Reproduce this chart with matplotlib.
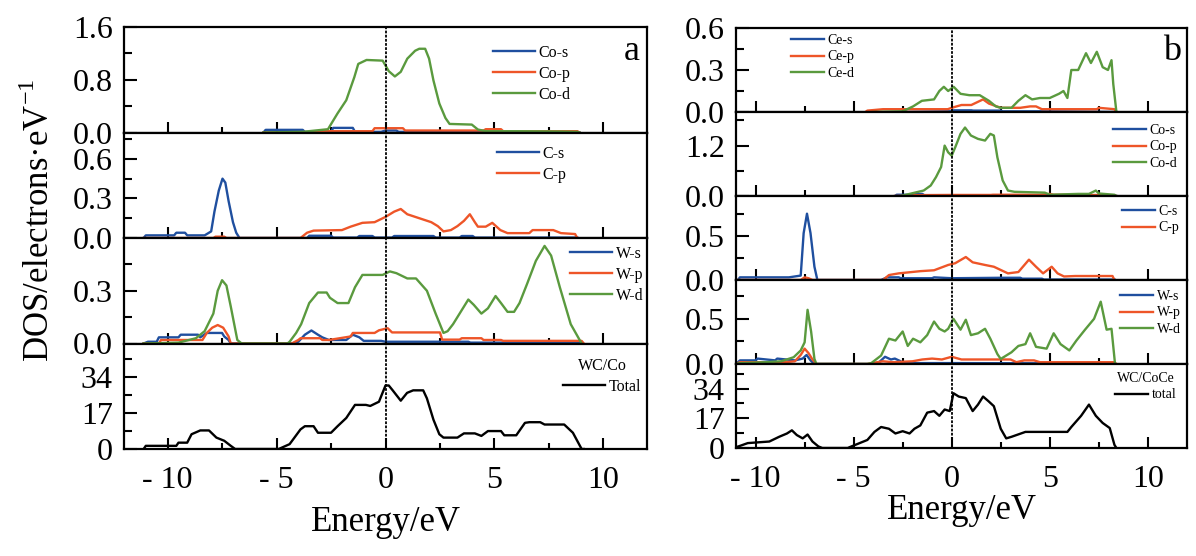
import matplotlib
matplotlib.use("Agg")
import matplotlib.pyplot as plt
from matplotlib.ticker import FixedLocator, FixedFormatter

plt.rcParams['font.family'] = ['Liberation Serif', 'DejaVu Serif']
plt.rcParams['mathtext.fontset'] = 'custom'
plt.rcParams['mathtext.rm'] = 'Liberation Serif'

BLUE = '#1f4f9f'
ORANGE = '#ee5528'
GREEN = '#5a9a3e'

# ---------------- (a) WC/Co ----------------
a_co_s_e = [-5.6, -5.5, -3.8, -3.7, -2.5, -2.4, -1.5, -1.4, -0.2, 0.0, 0.5, 0.6, 3.0, 4.5, 6.0, 8.8, 8.9]
a_co_s_v = [0, 0.04, 0.04, 0.01, 0.01, 0.07, 0.07, 0.01, 0.01, 0.03, 0.03, 0.01, 0.01, 0.015, 0.01, 0.01, 0]
a_co_p_e = [-5.6, -3.8, -3.0, -2.9, -0.6, -0.5, 0.8, 0.9, 3.0, 4.5, 4.6, 5.3, 5.4, 7.0, 8.8, 8.9]
a_co_p_v = [0, 0.005, 0.005, 0.02, 0.02, 0.065, 0.065, 0.03, 0.03, 0.03, 0.05, 0.05, 0.02, 0.02, 0.02, 0]
a_co_d_e = [-5.6, -3.8, -2.64, -2.2, -1.8, -1.43, -1.25, -0.87, -0.13, 0.15, 0.43, 0.7, 1.0, 1.36, 1.55,
            1.82, 2.0, 2.2, 2.47, 2.75, 2.94, 3.96, 4.24, 4.6, 6.0, 8.0, 8.8, 8.9]
a_co_d_v = [0, 0.01, 0.05, 0.29, 0.49, 0.84, 1.04, 1.1, 1.09, 0.93, 0.85, 0.92, 1.12, 1.24, 1.27,
            1.27, 1.12, 0.79, 0.44, 0.22, 0.13, 0.12, 0.045, 0.02, 0.02, 0.015, 0.01, 0]

a_c_s_e = [-11.1, -11.0, -9.7, -9.6, -9.2, -9.1, -8.3, -8.0, -7.85, -7.65, -7.48, -7.35, -7.2, -7.0, -6.85, -6.7,
           -3.6, -3.5, -2.5, -2.4, -1.3, -1.2, -0.6, -0.5, 0.3, 0.4, 2.2, 2.3, 3.4, 3.5, 4.0, 4.1, 8.8]
a_c_s_v = [0, 0.02, 0.02, 0.04, 0.04, 0.02, 0.02, 0.05, 0.2, 0.36, 0.45, 0.42, 0.28, 0.12, 0.04, 0,
           0, 0.017, 0.017, 0.003, 0.003, 0.015, 0.015, 0.003, 0.003, 0.015, 0.015, 0.003, 0.003, 0.015, 0.015, 0.003, 0.003]
a_c_p_e = [-11.1, -7.9, -7.8, -7.4, -7.3, -3.9, -3.6, -3.3, -2.0, -1.6, -1.06, -0.5, 0.0, 0.4, 0.7, 1.0, 1.55,
           2.1, 2.4, 2.66, 3.0, 3.3, 3.6, 3.87, 4.1, 4.24, 4.6, 4.9, 5.27, 5.6, 6.6, 6.75, 7.7, 8.05, 8.7, 8.8]
a_c_p_v = [0, 0, 0.01, 0.01, 0, 0, 0.04, 0.056, 0.06, 0.086, 0.115, 0.12, 0.16, 0.2, 0.22, 0.18, 0.15,
           0.12, 0.09, 0.05, 0.06, 0.09, 0.13, 0.18, 0.12, 0.086, 0.086, 0.115, 0.06, 0.037, 0.037, 0.06, 0.06, 0.037, 0.03, 0]

a_w_s_e = [-11.1, -10.9, -10.5, -10.4, -9.5, -9.4, -8.6, -8.5, -8.2, -7.5, -7.4, -7.2, -7.1, -4.3, -4.0, -3.7,
           -3.4, -3.1, -2.9, -2.6, -1.8, -1.5, -1.2, -1.0, -0.2, 0.0, 3.8, 3.9, 9.0]
a_w_s_v = [0, 0.01, 0.01, 0.035, 0.035, 0.05, 0.05, 0.035, 0.06, 0.06, 0.04, 0.02, 0, 0, 0.01, 0.05,
           0.074, 0.05, 0.035, 0.02, 0.02, 0.05, 0.035, 0.015, 0.015, 0.01, 0.01, 0.005, 0.005]
a_w_p_e = [-11.1, -10.4, -10.3, -8.4, -8.2, -7.95, -7.7, -7.45, -7.2, -7.1, -4.3, -4.0, -3.9, -3.0, -2.9, -2.6,
           -1.6, -1.5, -0.5, -0.3, 0.1, 0.3, 2.5, 2.6, 3.4, 3.5, 4.4, 4.5, 5.3, 5.4, 9.0, 9.1]
a_w_p_v = [0, 0, 0.02, 0.02, 0.06, 0.09, 0.105, 0.09, 0.04, 0.0, 0, 0.02, 0.03, 0.03, 0.02, 0.02,
           0.04, 0.06, 0.06, 0.075, 0.087, 0.063, 0.063, 0.022, 0.022, 0.03, 0.03, 0.02, 0.02, 0.015, 0.015, 0]
a_w_d_e = [-11.1, -9.5, -8.7, -8.3, -7.9, -7.7, -7.5, -7.3, -7.1, -6.8, -6.6, -4.5, -4.4, -4.1, -3.87, -3.5,
           -3.1, -2.7, -2.55, -2.2, -1.7, -1.4, -1.06, -0.5, -0.13, 0.2, 0.5, 1.0, 1.4, 1.9, 2.3, 2.66, 2.85,
           3.1, 3.4, 3.8, 4.05, 4.4, 4.7, 5.05, 5.3, 5.6, 5.9, 6.15, 6.5, 6.9, 7.3, 7.6, 8.0, 8.5, 9.0]
a_w_d_v = [0, 0.005, 0.03, 0.07, 0.17, 0.3, 0.36, 0.33, 0.21, 0.02, 0, 0, 0.01, 0.06, 0.11, 0.23,
           0.29, 0.29, 0.26, 0.23, 0.23, 0.32, 0.39, 0.39, 0.39, 0.41, 0.4, 0.37, 0.37, 0.3, 0.17, 0.06, 0.07,
           0.11, 0.17, 0.25, 0.22, 0.17, 0.2, 0.27, 0.23, 0.18, 0.18, 0.23, 0.34, 0.47, 0.555, 0.5, 0.32, 0.11, 0]

a_tot_e = [-11.1, -11.0, -9.6, -9.5, -9.1, -8.9, -8.5, -8.1, -7.76, -7.4, -7.1, -6.9, -6.8, -5.0, -4.9, -4.4,
           -3.9, -3.7, -3.3, -3.1, -2.5, -2.2, -1.8, -1.4, -0.9, -0.7, -0.3, 0.0, 0.15, 0.33, 0.7, 0.99, 1.27,
           1.73, 1.9, 2.2, 2.47, 2.66, 3.3, 3.6, 4.1, 4.4, 4.7, 5.3, 5.45, 6.0, 6.4, 6.6, 7.1, 7.3, 8.2, 8.6, 9.0, 9.1]
a_tot_v = [0, 1.5, 1.5, 3, 3, 7, 8.8, 8.8, 5.4, 3.9, 1.5, 0, 0, 0, 0, 2.3,
           9.3, 10.8, 10.8, 7.7, 7.7, 10.8, 14.7, 20.9, 20.9, 20.4, 22.4, 30.1, 30.1, 27.8, 22.9, 26.6, 27.8,
           27.8, 24, 13.9, 7, 5.4, 5.4, 7.4, 7.4, 6.2, 8.5, 8.5, 6.5, 6.5, 12.4, 12.7, 12.7, 11.6, 11.6, 7.7, 0, 0]

# ---------------- (b) WC/CoCe ----------------
b_ce_s_e = [-2.5, 0.0, 0.1, 1.0, 1.1, 2.5, 2.6, 4.5, 8.4]
b_ce_s_v = [0, 0.005, 0.012, 0.012, 0.01, 0.01, 0.005, 0.005, 0]
b_ce_p_e = [-4.4, -4.3, -3.5, -0.2, 0.0, 0.5, 1.0, 1.3, 1.6, 1.9, 2.5, 3.5, 4.0, 4.3, 4.6, 5.5, 7.4, 7.5, 8.3, 8.4]
b_ce_p_v = [0, 0.01, 0.02, 0.02, 0.03, 0.05, 0.05, 0.07, 0.09, 0.06, 0.03, 0.03, 0.04, 0.04, 0.02, 0.02, 0.02, 0.03, 0.02, 0]
b_ce_d_e = [-4.0, -2.5, -1.97, -1.52, -0.9, -0.63, -0.4, -0.18, 0.1, 0.45, 0.9, 1.43, 1.9, 2.25, 2.5, 3.05, 3.4,
            3.76, 4.1, 4.5, 5.0, 5.47, 5.7, 5.9, 6.1, 6.45, 6.85, 7.1, 7.4, 7.7, 7.97, 8.15, 8.24, 8.4]
b_ce_d_v = [0, 0.005, 0.04, 0.08, 0.09, 0.15, 0.18, 0.15, 0.18, 0.13, 0.12, 0.12, 0.08, 0.04, 0.03, 0.03, 0.08,
            0.12, 0.09, 0.1, 0.1, 0.13, 0.15, 0.1, 0.3, 0.3, 0.42, 0.35, 0.43, 0.32, 0.3, 0.37, 0.2, 0]

b_co_s_e = [-2.9, -2.8, -2.0, -1.9, -1.5, -1.4, 0.0, 2.0, 4.0, 8.0, 8.4]
b_co_s_v = [0, 0.03, 0.03, 0.05, 0.05, 0.02, 0.02, 0.015, 0.02, 0.015, 0]
b_co_p_e = [-2.9, -2.0, -1.9, 0.0, 2.0, 2.1, 4.5, 5.0, 5.2, 6.0, 8.0, 8.4]
b_co_p_v = [0, 0.01, 0.02, 0.025, 0.025, 0.03, 0.03, 0.05, 0.03, 0.03, 0.02, 0]
b_co_d_e = [-2.6, -2.5, -1.97, -1.43, -1.07, -0.8, -0.54, -0.36, -0.18, 0.0, 0.18, 0.45, 0.68, 0.98, 1.34, 1.7,
            1.97, 2.15, 2.33, 2.6, 2.87, 3.2, 4.75, 5.0, 6.45, 7.0, 7.35, 7.5, 8.3, 8.4]
b_co_d_v = [0, 0.01, 0.07, 0.13, 0.25, 0.45, 0.69, 1.2, 1.04, 0.96, 1.16, 1.48, 1.63, 1.44, 1.36, 1.32,
            1.48, 1.44, 0.92, 0.37, 0.13, 0.1, 0.08, 0.03, 0.05, 0.05, 0.13, 0.06, 0.03, 0]

b_c_s_e = [-10.9, -10.8, -8.3, -8.0, -7.7, -7.55, -7.38, -7.2, -7.0, -6.85, -3.6, -3.3, -2.7, -2.6, -1.0, -0.9,
           0.0, 2.5, 3.5, 3.6, 4.6, 4.7, 8.3]
b_c_s_v = [0, 0.03, 0.03, 0.04, 0.05, 0.53, 0.75, 0.53, 0.15, 0, 0, 0.03, 0.03, 0.02, 0.02, 0.03,
           0.02, 0.025, 0.025, 0.015, 0.015, 0.005, 0.005]
b_c_p_e = [-10.9, -7.7, -7.5, -7.3, -7.1, -3.5, -3.2, -2.7, -1.6, -0.9, -0.18, 0.18, 0.72, 1.07, 1.7, 2.15,
           2.87, 3.4, 3.94, 4.3, 4.66, 5.1, 5.4, 5.73, 6.3, 8.2, 8.3]
b_c_p_v = [0, 0, 0.03, 0.02, 0, 0, 0.056, 0.075, 0.1, 0.11, 0.17, 0.19, 0.26, 0.2, 0.17, 0.15,
           0.075, 0.09, 0.23, 0.15, 0.075, 0.15, 0.075, 0.04, 0.045, 0.045, 0]

b_w_s_e = [-11.0, -10.8, -10.0, -9.9, -9.0, -8.9, -8.0, -7.6, -7.4, -7.2, -7.0, -4.0, -3.7, -3.4, -3.1, -2.9,
           -2.6, -2.5, 0.0, 4.0, 8.3]
b_w_s_v = [0, 0.04, 0.04, 0.06, 0.04, 0.06, 0.04, 0.06, 0.1, 0.04, 0, 0, 0.02, 0.08, 0.05, 0.06,
           0.03, 0.01, 0.01, 0.008, 0.005]
b_w_p_e = [-11.0, -10.8, -8.5, -8.0, -7.7, -7.5, -7.3, -7.1, -6.9, -4.3, -3.8, -3.5, -3.0, -2.0, -1.5, -1.0,
           -0.5, 0.0, 0.5, 1.0, 3.0, 3.3, 3.7, 4.2, 4.5, 8.3, 8.4]
b_w_p_v = [0, 0.02, 0.02, 0.03, 0.1, 0.17, 0.12, 0.05, 0, 0, 0.02, 0.03, 0.02, 0.03, 0.05, 0.06,
           0.05, 0.08, 0.05, 0.05, 0.05, 0.02, 0.04, 0.04, 0.02, 0.02, 0]
b_w_d_e = [-11.0, -10.8, -9.5, -8.7, -8.06, -7.7, -7.5, -7.35, -7.17, -7.0, -6.9, -4.3, -4.1, -3.6, -3.2, -2.87,
           -2.5, -2.24, -1.97, -1.6, -1.25, -0.9, -0.63, -0.36, -0.18, 0.09, 0.45, 0.72, 0.98, 1.34, 1.7, 1.97,
           2.33, 2.5, 3.05, 3.4, 3.76, 4.0, 4.3, 4.84, 5.2, 5.55, 6.0, 6.36, 6.8, 7.26, 7.6, 7.9, 8.15, 8.33]
b_w_d_v = [0, 0.01, 0.02, 0.03, 0.075, 0.15, 0.24, 0.6, 0.36, 0.056, 0, 0, 0.01, 0.094, 0.28, 0.26,
           0.36, 0.2, 0.28, 0.24, 0.32, 0.47, 0.39, 0.36, 0.39, 0.5, 0.38, 0.49, 0.32, 0.34, 0.39, 0.28,
           0.11, 0.056, 0.13, 0.2, 0.22, 0.34, 0.19, 0.17, 0.34, 0.22, 0.15, 0.26, 0.38, 0.5, 0.69, 0.38, 0.39, 0]

b_tot_e = [-11.0, -10.85, -10.4, -9.3, -8.8, -8.4, -8.15, -7.9, -7.6, -7.35, -7.1, -6.8, -6.6, -5.3, -5.2, -4.3,
           -3.94, -3.6, -3.2, -2.87, -2.5, -2.15, -1.9, -1.6, -1.25, -0.9, -0.63, -0.36, -0.1, 0.09, 0.36, 0.72,
           1.07, 1.34, 1.6, 1.88, 2.15, 2.5, 2.78, 3.05, 3.76, 4.8, 5.9, 6.1, 6.6, 7.0, 7.35, 7.7, 8.06, 8.3, 8.4]
b_tot_v = [0.5, 1, 2.8, 3.7, 6.4, 8.3, 10.1, 7.4, 5.5, 7.7, 3.7, 0.9, 0, 0, 0.5, 4.6,
           9.2, 12, 11, 8.3, 9.6, 8.3, 11, 12.9, 20.2, 21.1, 18.4, 22, 21.1, 31.3, 29.4, 28.5,
           21.1, 24.8, 29.4, 26.7, 23.9, 11, 5.5, 6.4, 9.2, 9.2, 9.2, 12, 18.4, 24.8, 18.4, 14.3, 11.4, 1.8, 0]

x_ticks = [-10, -5, 0, 5, 10]
x_tick_labels = ['- 10', '- 5', '0', '5', '10']

W, H = 1196, 556
fig = plt.figure(figsize=(W / 100, H / 100), dpi=100)


def axes_px(x0, x1, ytop, ybot):
    return fig.add_axes([x0 / W, 1 - ybot / H, (x1 - x0) / W, (ybot - ytop) / H])


TICKFS = 23


def style(ax, xlim, ylim, ymaj, ymajlab, ymin, bottom=False):
    ax.set_xlim(*xlim)
    ax.set_ylim(*ylim)
    for s in ax.spines.values():
        s.set_linewidth(1.6)
    ax.xaxis.set_major_locator(FixedLocator(x_ticks))
    ax.xaxis.set_minor_locator(FixedLocator([-7.5, -2.5, 2.5, 7.5]))
    ax.yaxis.set_major_locator(FixedLocator(ymaj))
    ax.yaxis.set_major_formatter(FixedFormatter(ymajlab))
    ax.yaxis.set_minor_locator(FixedLocator(ymin))
    ax.tick_params(axis='x', which='major', direction='in', length=8, width=1.5, top=False)
    ax.tick_params(axis='x', which='minor', direction='in', length=4, width=1.5, top=False)
    ax.tick_params(axis='y', which='major', direction='in', length=9, width=1.5, right=False,
                   labelsize=TICKFS, pad=8)
    ax.tick_params(axis='y', which='minor', direction='in', length=5.5, width=1.5, right=False)
    if bottom:
        ax.set_xticklabels(x_tick_labels)
        ax.tick_params(axis='x', labelsize=TICKFS, pad=12)
    else:
        ax.tick_params(axis='x', labelbottom=False)
    ax.axvline(0, color='black', lw=1.3, ls=(0, (1.5, 0.8)), zorder=5)


def leg(ax, x, ytop, fs, title=None, ls=0.3, hl=2.6):
    lg = ax.legend(loc='upper left', bbox_to_anchor=(x / W, 1 - ytop / H), bbox_transform=fig.transFigure,
                   frameon=False, fontsize=fs, borderpad=0, borderaxespad=0, labelspacing=ls,
                   handlelength=hl, handletextpad=0.25, title=title, title_fontsize=fs)
    return lg


LW = 1.7

# ---- left (a)
ax = axes_px(124, 647, 27, 132.5)
ax.plot(a_co_s_e, a_co_s_v, color=BLUE, lw=LW, label='Co-s')
ax.plot(a_co_p_e, a_co_p_v, color=ORANGE, lw=LW, label='Co-p')
ax.plot(a_co_d_e, a_co_d_v, color=GREEN, lw=LW, label='Co-d')
style(ax, (-12, 12), (0, 1.6), [0, 0.8, 1.6], ['0.0', '0.8', '1.6'], [0.4, 1.2])
leg(ax, 493, 45, 11.5)

ax = axes_px(124, 647, 132.5, 238)
ax.plot(a_c_s_e, a_c_s_v, color=BLUE, lw=LW, label='C-s')
ax.plot(a_c_p_e, a_c_p_v, color=ORANGE, lw=LW, label='C-p')
style(ax, (-12, 12), (0, 0.8), [0, 0.3, 0.6], ['0.0', '0.3', '0.6'], [0.15, 0.45, 0.75])
leg(ax, 497, 146, 11.5)

ax = axes_px(124, 647, 238, 343.5)
ax.plot(a_w_s_e, a_w_s_v, color=BLUE, lw=LW, label='W-s')
ax.plot(a_w_p_e, a_w_p_v, color=ORANGE, lw=LW, label='W-p')
ax.plot(a_w_d_e, a_w_d_v, color=GREEN, lw=LW, label='W-d')
style(ax, (-12, 12), (0, 0.6), [0, 0.3], ['0.0', '0.3'], [0.15, 0.45])
leg(ax, 570, 246, 11.5)

ax = axes_px(124, 647, 343.5, 449)
ax.plot(a_tot_e, a_tot_v, color='black', lw=LW, label='Total')
style(ax, (-12, 12), (0, 50), [0, 17, 34], ['0', '17', '34'], [8.5, 25.5, 42.5], bottom=True)
leg(ax, 563, 358, 11.5, title='WC/Co')
ax.set_xlabel('Energy/eV', fontsize=25, labelpad=8)

fig.text(40 / W, 1 - 220 / H, 'DOS/electrons·eV$^{-1}$', rotation=90, fontsize=25,
         ha='center', va='center')
fig.text(632 / W, 1 - 52 / H, 'a', fontsize=26, ha='center', va='center')

# ---- right (b)
ax = axes_px(736, 1187, 28, 112)
ax.plot(b_ce_s_e, b_ce_s_v, color=BLUE, lw=LW, label='Ce-s')
ax.plot(b_ce_p_e, b_ce_p_v, color=ORANGE, lw=LW, label='Ce-p')
ax.plot(b_ce_d_e, b_ce_d_v, color=GREEN, lw=LW, label='Ce-d')
style(ax, (-11, 12), (0, 0.6), [0, 0.3, 0.6], ['0.0', '0.3', '0.6'], [0.15, 0.45])
leg(ax, 791, 34, 10, ls=0.25, hl=2.4)

ax = axes_px(736, 1187, 112, 196)
ax.plot(b_co_s_e, b_co_s_v, color=BLUE, lw=LW, label='Co-s')
ax.plot(b_co_p_e, b_co_p_v, color=ORANGE, lw=LW, label='Co-p')
ax.plot(b_co_d_e, b_co_d_v, color=GREEN, lw=LW, label='Co-d')
style(ax, (-11, 12), (0, 2.0), [0, 1.2], ['0.0', '1.2'], [0.6, 1.8])
leg(ax, 1113, 124, 10, ls=0.25, hl=2.4)

ax = axes_px(736, 1187, 196, 280)
ax.plot(b_c_s_e, b_c_s_v, color=BLUE, lw=LW, label='C-s')
ax.plot(b_c_p_e, b_c_p_v, color=ORANGE, lw=LW, label='C-p')
style(ax, (-11, 12), (0, 0.95), [0, 0.5], ['0.0', '0.5'], [0.25, 0.75])
leg(ax, 1122, 205, 10, ls=0.25, hl=2.4)

ax = axes_px(736, 1187, 280, 364)
ax.plot(b_w_s_e, b_w_s_v, color=BLUE, lw=LW, label='W-s')
ax.plot(b_w_p_e, b_w_p_v, color=ORANGE, lw=LW, label='W-p')
ax.plot(b_w_d_e, b_w_d_v, color=GREEN, lw=LW, label='W-d')
style(ax, (-11, 12), (0, 0.93), [0, 0.5], ['0.0', '0.5'], [0.25, 0.75])
leg(ax, 1120, 290, 10, ls=0.25, hl=2.4)

ax = axes_px(736, 1187, 364, 448)
ax.plot(b_tot_e, b_tot_v, color='black', lw=LW, label='total')
style(ax, (-11, 12), (0, 48), [0, 17, 34], ['0', '17', '34'], [8.5, 25.5, 42.5], bottom=True)
leg(ax, 1115, 372, 10, title='WC/CoCe', ls=0.25, hl=2.4)
ax.set_xlabel('Energy/eV', fontsize=25, labelpad=0)

fig.text(1172 / W, 1 - 52 / H, 'b', fontsize=26, ha='center', va='center')

fig.savefig('out.png', dpi=100)
